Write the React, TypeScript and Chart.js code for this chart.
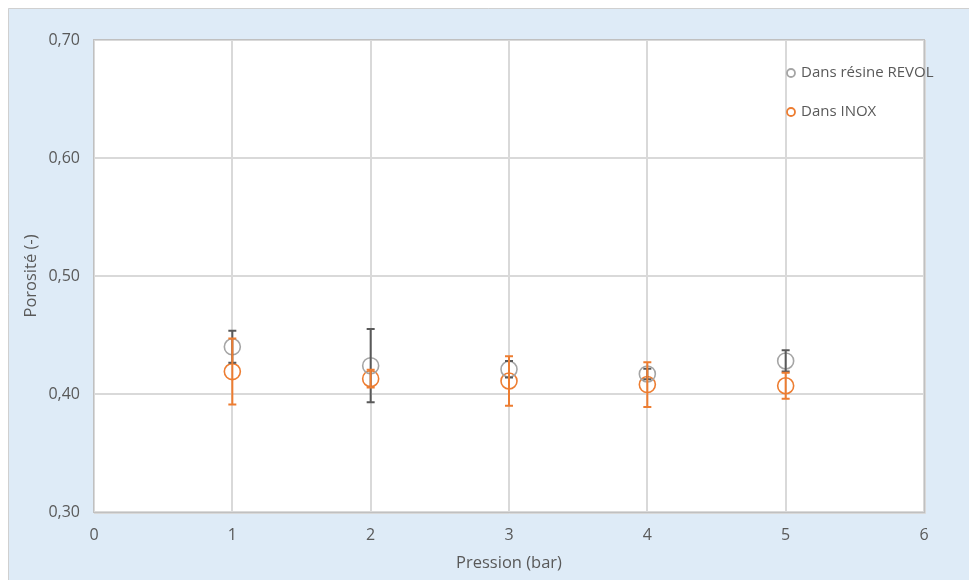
import React, { useEffect, useRef } from "react";
import { Chart, registerables } from "chart.js";

Chart.register(...registerables);

const pressures = [1, 2, 3, 4, 5];
const revol = [0.44, 0.424, 0.421, 0.417, 0.428];
const revolErr = [0.0135, 0.031, 0.007, 0.0045, 0.009];
const inox = [0.419, 0.413, 0.411, 0.408, 0.407];
const inoxErr = [0.028, 0.0075, 0.021, 0.019, 0.011];
const seriesNames = ["Dans résine REVOL", "Dans INOX"];
const xTitle = "Pression (bar)";
const yTitle = "Porosité (-)";

const GREY = "#A5A5A5";
const ORANGE = "#ED7D31";
const DARK = "#595959";
const TEXT = "#595959";
const FONT = "'Open Sans', sans-serif";

const bgPlugin = {
  id: "bg",
  beforeDraw(chart: any) {
    const { ctx, width, height, chartArea } = chart;
    ctx.save();
    ctx.fillStyle = "#DEEBF7";
    ctx.fillRect(0, 0, width, height);
    ctx.strokeStyle = "#D0D0D0";
    ctx.lineWidth = 1;
    ctx.beginPath();
    ctx.moveTo(0.5, height);
    ctx.lineTo(0.5, 0.5);
    ctx.lineTo(width, 0.5);
    ctx.stroke();
    ctx.fillStyle = "#FFFFFF";
    ctx.fillRect(chartArea.left, chartArea.top, chartArea.right - chartArea.left, chartArea.bottom - chartArea.top);
    ctx.restore();
  },
  afterDatasetsDraw(chart: any) {
    const { ctx, chartArea } = chart;
    const xs = chart.scales.x;
    const ys = chart.scales.y;
    const sets = [
      { vals: revol, errs: revolErr, color: DARK },
      { vals: inox, errs: inoxErr, color: ORANGE },
    ];
    ctx.save();
    for (const s of sets) {
      ctx.strokeStyle = s.color;
      ctx.lineWidth = 2;
      for (let i = 0; i < pressures.length; i++) {
        const x = xs.getPixelForValue(pressures[i]);
        const yt = ys.getPixelForValue(s.vals[i] + s.errs[i]);
        const yb = ys.getPixelForValue(s.vals[i] - s.errs[i]);
        ctx.beginPath();
        ctx.moveTo(x, yt);
        ctx.lineTo(x, yb);
        ctx.moveTo(x - 4, yt);
        ctx.lineTo(x + 4, yt);
        ctx.moveTo(x - 4, yb);
        ctx.lineTo(x + 4, yb);
        ctx.stroke();
      }
    }
    // plot border
    ctx.strokeStyle = "#C0C0C0";
    ctx.lineWidth = 1;
    ctx.strokeRect(chartArea.left - 0.5, chartArea.top - 0.5, chartArea.right - chartArea.left + 1, chartArea.bottom - chartArea.top + 1);
    ctx.strokeStyle = "#D8D8D8";
    ctx.beginPath();
    ctx.moveTo(chartArea.right + 1.5, chartArea.top);
    ctx.lineTo(chartArea.right + 1.5, chartArea.bottom + 1.5);
    ctx.lineTo(chartArea.left, chartArea.bottom + 1.5);
    ctx.stroke();
    // legend
    const colors = [GREY, ORANGE];
    const lx = chartArea.left + 697;
    const ly = [chartArea.top + 33, chartArea.top + 72];
    ctx.font = `15px ${FONT}`;
    ctx.textBaseline = "middle";
    ctx.textAlign = "left";
    for (let i = 0; i < 2; i++) {
      ctx.strokeStyle = colors[i];
      ctx.lineWidth = 1.8;
      ctx.beginPath();
      ctx.arc(lx, ly[i], 4, 0, Math.PI * 2);
      ctx.stroke();
      ctx.fillStyle = TEXT;
      ctx.fillText(seriesNames[i], lx + 10, ly[i]);
    }
    ctx.restore();
  },
};

export default function App() {
  const ref = useRef<HTMLCanvasElement>(null);
  useEffect(() => {
    const chart = new Chart(ref.current!, {
      type: "scatter",
      data: {
        datasets: [
          {
            label: seriesNames[0],
            data: pressures.map((p, i) => ({ x: p, y: revol[i] })),
            pointRadius: 8,
            pointBorderWidth: 1.6,
            pointBorderColor: GREY,
            pointBackgroundColor: "rgba(0,0,0,0)",
            showLine: false,
          },
          {
            label: seriesNames[1],
            data: pressures.map((p, i) => ({ x: p, y: inox[i] })),
            pointRadius: 8,
            pointBorderWidth: 1.6,
            pointBorderColor: ORANGE,
            pointBackgroundColor: "rgba(0,0,0,0)",
            showLine: false,
          },
        ],
      },
      options: {
        animation: false,
        responsive: false,
        layout: { padding: { left: 0, top: 32, right: 45, bottom: 0 } },
        plugins: { legend: { display: false }, tooltip: { enabled: false } },
        scales: {
          x: {
            type: "linear",
            min: 0,
            max: 6,
            afterFit: (s: any) => { s.height = 68; },
            ticks: { stepSize: 1, color: TEXT, padding: 14, font: { family: FONT, size: 16 } },
            grid: { color: "#D9D9D9", lineWidth: 2, drawTicks: false },
            border: { display: false },
            title: { display: true, text: xTitle, color: TEXT, font: { family: FONT, size: 16.5 }, padding: { top: 0, bottom: 7 } },
          },
          y: {
            type: "linear",
            min: 0.3,
            max: 0.7,
            afterFit: (s: any) => { s.width = 86; },
            ticks: {
              stepSize: 0.1,
              color: TEXT,
              padding: 14,
              font: { family: FONT, size: 16 },
              callback: (v: any) => Number(v).toFixed(2).replace(".", ","),
            },
            grid: { color: "#D9D9D9", lineWidth: 2, drawTicks: false },
            border: { display: false },
            title: { display: true, text: yTitle, color: TEXT, font: { family: FONT, size: 16.5 }, padding: { top: 13.5, bottom: 0 } },
          },
        },
      },
      plugins: [bgPlugin],
    } as any);
    return () => chart.destroy();
  }, []);
  return (
    <div style={{ position: "absolute", left: 8, top: 8, width: 961, height: 572 }}>
      <canvas ref={ref} width={961} height={572} style={{ display: "block", width: 961, height: 572 }} />
    </div>
  );
}
